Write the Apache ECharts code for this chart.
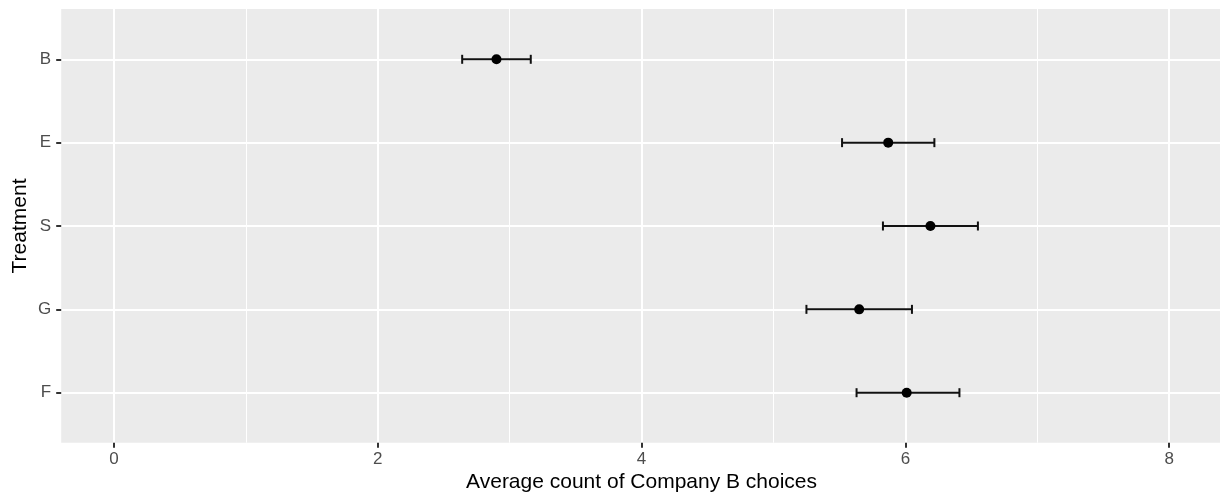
<!DOCTYPE html>
<html>
<head>
<meta charset="utf-8">
<script src="https://cdn.jsdelivr.net/npm/echarts@6/dist/echarts.min.js"></script>
<style>
  html, body { margin: 0; padding: 0; background: #ffffff; }
  #chart { width: 1220px; height: 496px; }
</style>
</head>
<body>
<div id="chart"></div>
<script>
// ---- data ----
const categories = ['B', 'E', 'S', 'G', 'F'];
const means = [2.90, 5.87, 6.19, 5.65, 6.01];
const lower = [2.64, 5.52, 5.83, 5.25, 5.63];
const upper = [3.16, 6.22, 6.55, 6.05, 6.41];
const xTickMin = 0, xTickMax = 8, xTickStep = 2;
const xTitle = 'Average count of Company B choices';
const yTitle = 'Treatment';

const FONT = '"Liberation Sans", Arial, Helvetica, sans-serif';

const pointData = means.map((m, i) => [m, i]);
const barData = lower.map((l, i) => [l, upper[i], i]);

const chart = echarts.init(document.getElementById('chart'), null, { renderer: 'canvas' });

const LEFT = 61.2;
const WIDTH = 1220 - LEFT;
const PX = 131.9;                       // px per unit
const xRange = { min: -0.4, max: -0.4 + WIDTH / PX };

chart.setOption({
  animation: false,
  backgroundColor: '#ffffff',
  grid: [
    { left: LEFT, top: 9, width: WIDTH, height: 433.7, show: true, backgroundColor: '#EBEBEB', borderWidth: 0, outerBoundsMode: 'none', containLabel: false },
    { left: LEFT, top: 59.3, width: WIDTH, height: 333.4, show: false, outerBoundsMode: 'none', containLabel: false },
    { left: LEFT + (xTickMin - xRange.min) * PX, top: 9, width: (xTickMax - xTickMin) * PX, height: 433.7, show: false, outerBoundsMode: 'none', containLabel: false }
  ],
  xAxis: [
    {
      gridIndex: 0, type: 'value', min: xRange.min, max: xRange.max, splitNumber: 5,
      position: 'bottom',
      axisLine: { show: false, onZero: false },
      axisTick: { show: false },
      axisLabel: { show: false },
      splitLine: { show: true, showMinLine: false, showMaxLine: false, lineStyle: { color: '#ffffff', width: 2 } },
      minorTick: { show: false, splitNumber: 2 },
      minorSplitLine: { show: true, lineStyle: { color: '#ffffff', width: 1 } }
    },
    {
      gridIndex: 1, type: 'value', min: xRange.min, max: xRange.max,
      show: false, splitLine: { show: false }
    },
    {
      gridIndex: 2, type: 'value', min: xTickMin, max: xTickMax, interval: xTickStep,
      position: 'bottom',
      name: xTitle, nameLocation: 'middle', nameGap: 29, nameMoveOverlap: false,
      nameTextStyle: { fontFamily: FONT, fontSize: 21, color: '#000000' },
      axisLine: { show: true, onZero: false, lineStyle: { color: 'rgba(0,0,0,0)', width: 0 } },
      axisTick: { show: true, length: 5, lineStyle: { color: '#333333', width: 2 } },
      axisLabel: { show: true, margin: 8, fontFamily: FONT, fontSize: 17, color: '#4D4D4D' },
      splitLine: { show: false }
    }
  ],
  yAxis: [
    {
      gridIndex: 0, type: 'value', show: false, min: 0, max: 1, splitLine: { show: false },
      axisLine: { onZero: false }
    },
    {
      gridIndex: 1, type: 'category', data: categories, inverse: true, boundaryGap: false,
      position: 'left',
      name: yTitle, nameLocation: 'middle', nameGap: 30, nameRotate: 90, nameMoveOverlap: false,
      nameTextStyle: { fontFamily: FONT, fontSize: 21, color: '#000000' },
      axisLine: { show: true, onZero: false, lineStyle: { color: 'rgba(0,0,0,0)', width: 0 } },
      axisTick: { show: true, length: 5, lineStyle: { color: '#333333', width: 2 } },
      axisLabel: { show: true, margin: 10, fontFamily: FONT, fontSize: 17, color: '#4D4D4D' },
      splitLine: { show: true, lineStyle: { color: '#ffffff', width: 2 } }
    },
    {
      gridIndex: 2, type: 'value', show: false, min: 0, max: 1, splitLine: { show: false },
      axisLine: { onZero: false }
    }
  ],
  series: [
    {
      type: 'custom',
      xAxisIndex: 1, yAxisIndex: 1,
      data: barData,
      encode: { x: [0, 1], y: 2 },
      clip: false,
      renderItem: function (params, api) {
        const y = api.value(2);
        const p0 = api.coord([api.value(0), y]);
        const p1 = api.coord([api.value(1), y]);
        const h = 4.5;
        const style = { stroke: '#111111', lineWidth: 2 };
        return {
          type: 'group',
          children: [
            { type: 'line', shape: { x1: p0[0], y1: p0[1], x2: p1[0], y2: p1[1] }, style: style },
            { type: 'line', shape: { x1: p0[0], y1: p0[1] - h, x2: p0[0], y2: p0[1] + h }, style: style },
            { type: 'line', shape: { x1: p1[0], y1: p1[1] - h, x2: p1[0], y2: p1[1] + h }, style: style }
          ]
        };
      },
      z: 3
    },
    {
      type: 'scatter',
      xAxisIndex: 1, yAxisIndex: 1,
      data: pointData,
      symbol: 'circle',
      symbolSize: 10,
      clip: false,
      itemStyle: { color: '#000000', opacity: 1 },
      z: 4
    }
  ]
});
</script>
</body>
</html>
